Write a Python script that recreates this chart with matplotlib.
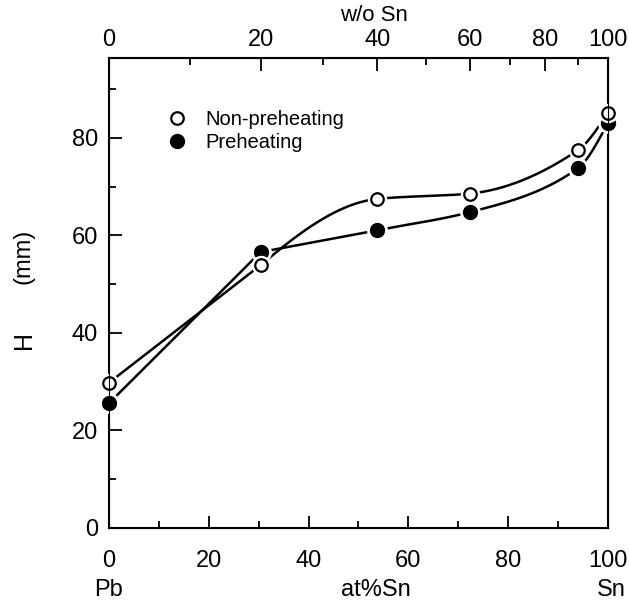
import numpy as np
import matplotlib
matplotlib.use('agg')
import matplotlib.pyplot as plt
from matplotlib.ticker import MultipleLocator, FixedLocator

plt.rcParams['font.family'] = ['Liberation Sans', 'DejaVu Sans']

# composition in at% Sn
at_sn = [0, 30.4, 53.8, 72.4, 94.0, 100]
# H (mm)
h_nonpre = [29.8, 53.9, 67.5, 68.6, 77.5, 85.1]
h_pre = [25.6, 56.6, 61.1, 64.8, 73.8, 83.0]

# top axis labels, wt% Sn
wt_major = [0, 20, 40, 60, 80, 100]
wt_minor = [10, 30, 50, 70, 90]


def wt_to_at(w):
    w = np.asarray(w, dtype=float)
    a = w / 118.71
    b = (100 - w) / 207.2
    return 100 * a / (a + b)


def pchip(x, y, xs):
    # monotone cubic (Fritsch-Carlson) for the hand drawn guide curves
    x = np.asarray(x, float)
    y = np.asarray(y, float)
    h = np.diff(x)
    d = np.diff(y) / h
    n = len(x)
    m = np.zeros(n)
    for i in range(1, n - 1):
        if d[i - 1] * d[i] > 0:
            w1 = 2 * h[i] + h[i - 1]
            w2 = h[i] + 2 * h[i - 1]
            m[i] = (w1 + w2) / (w1 / d[i - 1] + w2 / d[i])
    m[0] = ((2 * h[0] + h[1]) * d[0] - h[0] * d[1]) / (h[0] + h[1])
    if m[0] * d[0] <= 0:
        m[0] = 0
    m[-1] = ((2 * h[-1] + h[-2]) * d[-1] - h[-1] * d[-2]) / (h[-1] + h[-2])
    if m[-1] * d[-1] <= 0:
        m[-1] = 0
    out = np.empty_like(xs)
    for k, t in enumerate(xs):
        i = min(max(np.searchsorted(x, t, side='right') - 1, 0), n - 2)
        s = (t - x[i]) / h[i]
        h00 = 2 * s ** 3 - 3 * s ** 2 + 1
        h10 = s ** 3 - 2 * s ** 2 + s
        h01 = -2 * s ** 3 + 3 * s ** 2
        h11 = s ** 3 - s ** 2
        out[k] = h00 * y[i] + h10 * h[i] * m[i] + h01 * y[i + 1] + h11 * h[i] * m[i + 1]
    return out


def guide(x, y):
    # straight from Pb to the first alloy, smooth curve after that
    xa = np.linspace(x[0], x[1], 50)
    xb = np.linspace(x[1], x[-1], 400)
    return (np.concatenate([xa, xb]),
            np.concatenate([np.interp(xa, x[:2], y[:2]), pchip(x[1:], y[1:], xb)]))


fig = plt.figure(figsize=(6.29, 6.01), dpi=100)
ax = fig.add_axes([0.1733, 0.1215, 0.7933, 0.7828])

for h in (h_nonpre, h_pre):
    gx, gy = guide(at_sn, h)
    ax.plot(gx, gy, color='black', lw=1.8, zorder=2, clip_on=False)

# white halos to break the curves at the markers
ax.plot(at_sn, h_pre, 'o', ms=14, color='white', zorder=3, clip_on=False)
ax.plot(at_sn, h_nonpre, 'o', ms=13, color='white', zorder=5, clip_on=False)
ax.plot(at_sn, h_pre, 'o', ms=10, mfc='black', mec='black', zorder=4, clip_on=False,
        label='Preheating')
ax.plot(at_sn, h_nonpre, 'o', ms=9, mfc='white', mec='black', mew=1.6, zorder=6,
        clip_on=False, label='Non-preheating')

ax.set_xlim(0, 100)
ax.set_ylim(0, 96.5)

for s in ax.spines.values():
    s.set_linewidth(1.5)

ax.xaxis.set_major_locator(MultipleLocator(20))
ax.xaxis.set_minor_locator(MultipleLocator(10))
ax.yaxis.set_major_locator(MultipleLocator(20))
ax.yaxis.set_minor_locator(MultipleLocator(10))
ax.tick_params(which='both', direction='in', width=1.3, labelsize=17)
ax.tick_params(which='major', length=9)
ax.tick_params(which='minor', length=5)
ax.tick_params(axis='y', pad=8)
ax.tick_params(axis='x', pad=16)

# top axis in wt% Sn
ax2 = ax.twiny()
ax2.set_xlim(0, 100)
ax2.xaxis.set_major_locator(FixedLocator(wt_to_at(wt_major)))
ax2.xaxis.set_minor_locator(FixedLocator(wt_to_at(wt_minor)))
ax2.set_xticklabels([str(w) for w in wt_major])
ax2.tick_params(which='both', direction='in', width=1.3, labelsize=17, pad=5)
ax2.tick_params(which='major', length=9)
ax2.tick_params(which='minor', length=5)
ax2.set_xlabel('w/o Sn', fontsize=16)
ax2.xaxis.set_label_coords(0.531, 1.077)

# legend
handles, labels = ax.get_legend_handles_labels()
ax.legend(handles[::-1], labels[::-1], loc='upper left', bbox_to_anchor=(0.1, 0.905),
          frameon=False, fontsize=14.5, handletextpad=0.9, labelspacing=0.2,
          handlelength=1.0, borderaxespad=0)

# axis texts
fig.text(109 / 629, 1 - 590 / 601, 'Pb', fontsize=17, ha='center', va='center')
fig.text(376 / 629, 1 - 590 / 601, 'at%Sn', fontsize=17, ha='center', va='center')
fig.text(611 / 629, 1 - 590 / 601, 'Sn', fontsize=17, ha='center', va='center')
fig.text(24 / 629, 1 - 340 / 601, 'H', fontsize=18, rotation=90, ha='center', va='center')
fig.text(24 / 629, 1 - 256 / 601, '(mm)', fontsize=17, rotation=90, ha='center', va='center')

fig.savefig('out.png', dpi=100)
